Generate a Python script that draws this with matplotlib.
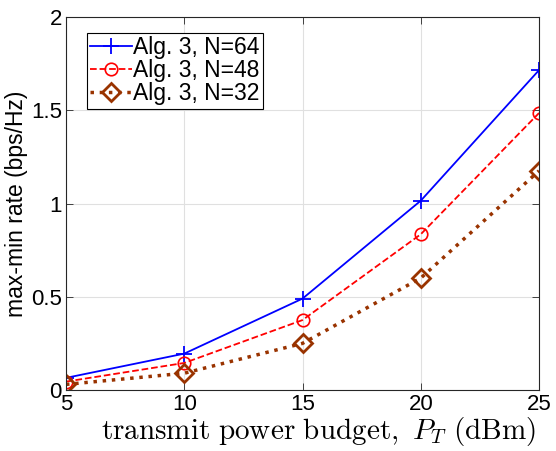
import matplotlib
matplotlib.use('Agg')
import matplotlib.pyplot as plt

# transmit power budget (dBm)
power = [5, 10, 15, 20, 25]

# max-min rate (bps/Hz)
rate_n64 = [0.065, 0.195, 0.49, 1.015, 1.715]
rate_n48 = [0.045, 0.145, 0.375, 0.835, 1.485]
rate_n32 = [0.03, 0.09, 0.25, 0.6, 1.175]

plt.rcParams['font.family'] = ['Liberation Sans', 'DejaVu Sans']
plt.rcParams['mathtext.fontset'] = 'cm'

fig = plt.figure(figsize=(5.56, 4.51), dpi=100)
ax = fig.add_axes([66 / 556, 1 - 390 / 451, (539 - 66) / 556, (390 - 17) / 451])

ax.plot(power, rate_n64, '-', color='#0000ff', marker='+', markersize=12,
        markeredgewidth=1.3, linewidth=1.3, label='Alg. 3, N=64')
ax.plot(power, rate_n48, '--', color='#ff0000', marker='o', markersize=9,
        markerfacecolor='none', markeredgewidth=1.2, linewidth=1.3,
        label='Alg. 3, N=48')
ax.plot(power, rate_n32, ':', color='#993300', marker='D', markersize=9,
        markerfacecolor='none', markeredgewidth=2, linewidth=2.5,
        label='Alg. 3, N=32')

ax.set_xlim(5, 25)
ax.set_ylim(0, 2)
ax.set_xticks([5, 10, 15, 20, 25])
ax.set_yticks([0, 0.5, 1, 1.5, 2])
ax.set_yticklabels(['0', '0.5', '1', '1.5', '2'])
ax.tick_params(direction='in', labelsize=16, length=5, width=0.6, pad=3,
               top=True, right=True, colors='#262626', labelcolor='black')
ax.grid(True, color='#e0e0e0', linewidth=0.8)
for s in ax.spines.values():
    s.set_color('#262626')
    s.set_linewidth(0.8)

ax.set_xlabel(r'$\mathrm{transmit\ power\ budget,}\ P_T\ \mathrm{(dBm)}$',
              fontsize=21, labelpad=0)
ax.xaxis.label.set_x(0.533)
ax.set_ylabel('max-min rate (bps/Hz)', fontsize=16.5, labelpad=2)

leg = ax.legend(loc='upper left', bbox_to_anchor=(21 / 473, 1 - 16 / 373),
                borderaxespad=0, fontsize=16.5, fancybox=False, framealpha=1,
                edgecolor='black', handlelength=1.8, handletextpad=0.05,
                borderpad=0.15, labelspacing=0.0)
leg.get_frame().set_linewidth(0.8)

fig.savefig('out.png', dpi=100)
